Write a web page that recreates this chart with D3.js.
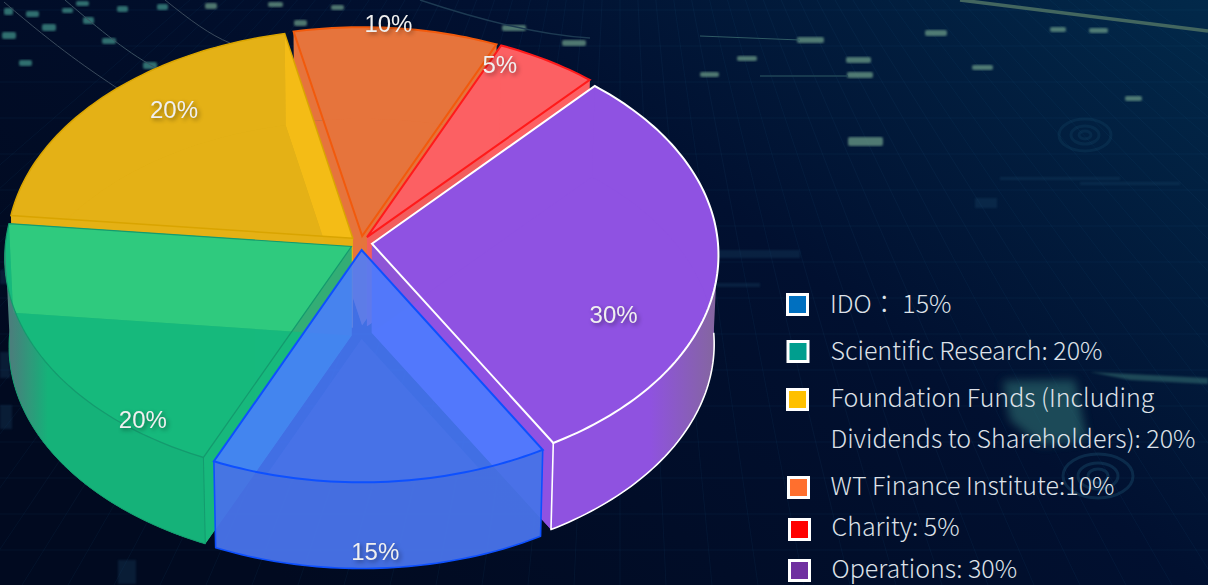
<!DOCTYPE html>
<html>
<head>
<meta charset="utf-8">
<script src="https://cdn.jsdelivr.net/npm/d3@7"></script>
<style>
    html, body { margin: 0; padding: 0; background: #020b20; overflow: hidden; }
    svg { display: block; }
    .slice-label {
        font-family: "Liberation Sans", Arial, sans-serif;
        font-size: 24px;
        fill: #f0f0f0;
        text-anchor: middle;
        dominant-baseline: central;
        filter: drop-shadow(2px 2px 2px rgba(0, 0, 0, 0.4));
    }
    .legend-text {
        font-family: "Noto Sans CJK TC", "Noto Sans CJK SC", "Noto Sans", sans-serif;
        font-size: 25px;
        font-weight: 300;
        fill: #dde1e8;
    }
</style>
</head>
<body>
<svg id="chart" width="1208" height="585"></svg>
<script>
    // chart values, clockwise from the IDO slice
    var categories = ["IDO", "Scientific Research", "Foundation Funds", "WT Finance Institute", "Charity", "Operations"]
    var shares = [15, 20, 20, 10, 5, 30]
    var sliceLabels = ["15%", "20%", "20%", "10%", "5%", "30%"]
    var legendLines = [
        ["IDO\uff1a 15%"],
        ["Scientific Research: 20%"],
        ["Foundation Funds (Including", "Dividends to Shareholders): 20%"],
        ["WT Finance Institute:10%"],
        ["Charity: 5%"],
        ["Operations: 30%"]
    ]

    // colours, same order as categories
    var topColors = ["#4a7dff", "#2fcd80", "#f5be17", "#e6743c", "#fc6063", "#8f52e2"]
    var topOpacity = [0.88, 0.9, 0.9, 1, 1, 1]
    var lowColors = ["#4873e8", "#16b97d", "#e5b216", "#e6743c", "#fc6063", "#8f52e2"]
    var wallColors = [null, "#33ad75", "#e6b012", "#7f6353", "#f25d5d", "#8e55d6"]
    var edgeColors = ["#0d50ff", "#149a6e", "#d9a400", "#f25a0c", "#ff1a1a", "#ffffff"]
    var edgeWidths = [2, 1.2, 1.5, 2, 2, 2]
    var swatchColors = ["#0070c0", "#009e8e", "#ffc000", "#ff6f2e", "#ff0000", "#7030a0"]

    // legend layout
    var legendSwatchX = [787.5, 788, 787.5, 788.5, 789.5, 789.5]
    var legendSwatchY = [294.5, 341.5, 389.5, 477.5, 519.5, 560.5]
    var legendTextX = [830, 830.5, 830.5, 830.5, 831.5, 831.5]
    var legendTextY = [[313], [360], [407, 448], [495], [536], [578]]

    // background bits: x, y, width, height
    var glowDashes = [
        [797, 37, 27, 6], [925, 30, 22, 6], [1050, 27, 16, 5], [1089, 28, 19, 5], [737, 56, 20, 5], [846, 57, 25, 6],
        [700, 72, 19, 5], [847, 72, 26, 6], [972, 65, 21, 5], [1125, 96, 17, 5], [848, 137, 35, 9],
        [562, 40, 24, 6], [502, 25, 24, 6], [268, 2, 15, 5], [294, 20, 13, 6],
        [331, 5, 13, 5], [4, 8, 9, 7], [26, 11, 13, 6], [42, 24, 14, 7], [2, 32, 14, 7], [19, 60, 13, 6],
        [76, 1, 13, 5], [62, 8, 11, 5], [83, 17, 11, 7], [117, 6, 11, 6], [102, 38, 14, 6], [143, 62, 14, 7],
        [157, 4, 11, 6], [205, 3, 12, 6]
    ]
    var faintBlocks = [
        [975, 198, 22, 10], [700, 250, 100, 8], [1000, 177, 120, 3], [1080, 182, 100, 3],
        [0, 270, 8, 14], [0, 352, 10, 26], [0, 405, 12, 24], [118, 560, 18, 24], [700, 283, 60, 4]
    ]

    var width = 1208
    var height = 585
    var cx = 361
    var cy = 243
    var radiusX = 346
    var radiusY = 220
    var depth = 89
    var explode = 11 / 346
    var perspective = 0.05
    var shrink = 0.012
    var startAngle = 150 * Math.PI / 180

    var svg = d3.select("#chart")
    var defs = svg.append("defs")

    // ---- background ----
    var bg = defs.append("linearGradient").attr("id", "bgFill")
        .attr("x1", 0).attr("y1", 0.6).attr("x2", 1).attr("y2", 0)
    bg.append("stop").attr("offset", 0).attr("stop-color", "#010a20")
    bg.append("stop").attr("offset", 0.55).attr("stop-color", "#011030")
    bg.append("stop").attr("offset", 1).attr("stop-color", "#02294a")
    defs.append("filter").attr("id", "soft").append("feGaussianBlur").attr("stdDeviation", 1)
    defs.append("filter").attr("id", "softer")
        .attr("x", "-50%").attr("y", "-50%").attr("width", "200%").attr("height", "200%")
        .append("feGaussianBlur").attr("stdDeviation", 5)

    svg.append("rect").attr("width", width).attr("height", height).attr("fill", "url(#bgFill)")

    var grid = svg.append("g").attr("stroke", "#2f6a9a").attr("stroke-opacity", 0.09).attr("fill", "none")
    grid.selectAll(".h").data(d3.range(10, height, 36)).enter().append("line")
        .attr("x1", 0).attr("x2", width).attr("y1", function(d) { return d }).attr("y2", function(d) { return d })
    grid.selectAll(".v").data(d3.range(-24, 30)).enter().append("line")
        .attr("x1", function(d) { return 620 + d * 16 }).attr("y1", -40)
        .attr("x2", function(d) { return 620 + d * 46 }).attr("y2", height)

    var deco = svg.append("g")
    deco.selectAll(".dash").data(glowDashes).enter().append("rect")
        .attr("x", function(d) { return d[0] }).attr("y", function(d) { return d[1] })
        .attr("width", function(d) { return d[2] }).attr("height", function(d) { return d[3] })
        .attr("rx", 2)
        .attr("fill", function(d) { return d[0] < 200 ? "#3f9088" : "#6a9a86" })
        .attr("opacity", 0.75).attr("filter", "url(#soft)")
    deco.selectAll(".block").data(faintBlocks).enter().append("rect")
        .attr("x", function(d) { return d[0] }).attr("y", function(d) { return d[1] })
        .attr("width", function(d) { return d[2] }).attr("height", function(d) { return d[3] })
        .attr("fill", "#1d4a6a").attr("opacity", 0.3).attr("filter", "url(#soft)")
    deco.append("path").attr("d", "M960,0L1208,31").attr("stroke", "#43665f").attr("stroke-width", 3.5).attr("fill", "none")
    deco.append("path").attr("d", "M700,36L800,40").attr("stroke", "#2f5a64").attr("stroke-width", 1).attr("fill", "none")
    deco.append("path").attr("d", "M760,76L848,76").attr("stroke", "#1f4456").attr("stroke-width", 1.5).attr("fill", "none")
    deco.append("path").attr("d", "M4,2C60,50 90,70 120,90").attr("stroke", "#3a4a5c").attr("stroke-width", 1).attr("fill", "none")
    deco.append("path").attr("d", "M65,0C100,30 130,55 160,70").attr("stroke", "#3a5060").attr("stroke-width", 1).attr("fill", "none")
    deco.append("path").attr("d", "M165,0C190,20 210,35 230,43").attr("stroke", "#3a4a5c").attr("stroke-width", 1).attr("fill", "none")
    deco.append("path").attr("d", "M420,0C480,20 540,35 590,38").attr("stroke", "#1d3a52").attr("stroke-width", 1.5).attr("fill", "none")
    deco.append("path").attr("d", "M1003,381L1075,380L1087,440L1040,445L1010,420Z")
        .attr("fill", "#2f6f72").attr("opacity", 0.6).attr("filter", "url(#softer)")
    deco.append("path").attr("d", "M1090,372L1208,378L1208,384L1130,380Z")
        .attr("fill", "#3a7a78").attr("opacity", 0.5).attr("filter", "url(#soft)")
    deco.selectAll(".ring").data([[1098, 476, 35, 22], [1098, 476, 20, 13], [1098, 476, 10, 7], [1085, 135, 26, 16], [1085, 135, 14, 9], [1085, 135, 6, 4]]).enter()
        .append("ellipse")
        .attr("cx", function(d) { return d[0] }).attr("cy", function(d) { return d[1] })
        .attr("rx", function(d) { return d[2] }).attr("ry", function(d) { return d[3] })
        .attr("fill", "none").attr("stroke", "#1f5a78").attr("stroke-width", 3)
        .attr("opacity", function(d) { return d[1] > 300 ? 0.35 : 0.2 })

    // ---- wall gradients, the sides of the disc go grey at the far edges ----
    var purpleWall = defs.append("linearGradient").attr("id", "wall5").attr("gradientUnits", "userSpaceOnUse")
        .attr("x1", 550).attr("x2", 716).attr("y1", 0).attr("y2", 0)
    purpleWall.append("stop").attr("offset", 0.6).attr("stop-color", "#8f52e0")
    purpleWall.append("stop").attr("offset", 1).attr("stop-color", "#84669f")
    var greenWall = defs.append("linearGradient").attr("id", "wall1").attr("gradientUnits", "userSpaceOnUse")
        .attr("x1", 11).attr("x2", 48).attr("y1", 0).attr("y2", 0)
    greenWall.append("stop").attr("offset", 0).attr("stop-color", "#4d8480")
    greenWall.append("stop").attr("offset", 1).attr("stop-color", "#16b97d")

    // ---- pie geometry ----
    var pie = d3.pie().sort(null).value(function(d) { return d.share })
        .startAngle(startAngle).endAngle(startAngle + 2 * Math.PI)

    var table = categories.map(function(name, i) {
        return { name: name, share: shares[i], label: sliceLabels[i], index: i }
    })
    var slices = pie(table)
    slices.forEach(function(d) {
        d.mid = (d.startAngle + d.endAngle) / 2
        d.ox = explode * Math.sin(d.mid)
        d.oy = -explode * Math.cos(d.mid)
    })

    // unit disc -> screen. r=0 is the apex of the slice, z=0 top face, z=1 bottom face
    function project(d, angle, r, z) {
        var X = d.ox + r * Math.sin(angle)
        var Y = d.oy - r * Math.cos(angle)
        var p = (1 / (1 - perspective * Y)) * (1 - shrink * z)
        return [cx + X * radiusX * p, cy + Y * radiusY * p + z * depth]
    }

    function arcPoints(d, a0, a1, z) {
        var n = Math.max(2, Math.ceil((a1 - a0) / 0.02))
        return d3.range(n + 1).map(function(i) {
            return project(d, a0 + (a1 - a0) * i / n, 1, z)
        })
    }

    var line = d3.line()

    function faceShape(d, z) {
        return line([project(d, 0, 0, z)].concat(arcPoints(d, d.startAngle, d.endAngle, z))) + "Z"
    }

    function wallBand(a0, a1, d) {
        var top = arcPoints(d, a0, a1, 0)
        var low = arcPoints(d, a0, a1, 1).reverse()
        return line(top.concat(low)) + "Z"
    }

    function innerWallShape(d, angle) {
        return line([project(d, 0, 0, 0), project(d, angle, 1, 0), project(d, angle, 1, 1), project(d, 0, 0, 1)]) + "Z"
    }

    // angles of the slice that lie on the half of the disc facing us
    function frontRange(d) {
        var raw = d.startAngle % (2 * Math.PI)
        var end = raw + (d.endAngle - d.startAngle)
        return { raw: raw, end: end, from: Math.max(raw, Math.PI / 2), to: Math.min(end, 1.5 * Math.PI) }
    }

    function frontEdge(d) {
        var f = frontRange(d)
        var pts = arcPoints(d, f.from, f.to, 1)
        if (f.raw >= Math.PI / 2) pts.unshift(project(d, f.raw, 1, 0))
        if (f.end <= 1.5 * Math.PI) pts.push(project(d, f.end, 1, 0))
        return line(pts)
    }

    // back slices first, the one nearest to us last
    var drawOrder = slices.slice().sort(function(a, b) {
        return d3.ascending(-Math.cos(a.mid), -Math.cos(b.mid))
    })

    var group = svg.append("g").selectAll(".slice").data(drawOrder).enter().append("g")
        .attr("class", "slice")

    group.each(function(d) {
        var s = d3.select(this)
        var i = d.data.index
        // the front slice has no visible cut faces, what shows through it belongs to its neighbours
        if (wallColors[i]) {
            s.append("path").attr("d", innerWallShape(d, d.startAngle)).attr("fill", wallColors[i])
            s.append("path").attr("d", innerWallShape(d, d.endAngle)).attr("fill", wallColors[i])
        }

        s.append("path").attr("d", faceShape(d, 0)).attr("fill", topColors[i]).attr("fill-opacity", topOpacity[i])

        var low = s.append("g").attr("opacity", topOpacity[i] == 1 ? 1 : 0.96)
        low.append("path").attr("d", faceShape(d, 1)).attr("fill", lowColors[i])
        low.append("path").attr("d", wallBand(d.startAngle, d.endAngle, d)).attr("fill", lowColors[i])
        if (i == 1 || i == 5) {
            var f = frontRange(d)
            low.append("path").attr("d", wallBand(f.from, f.to, d)).attr("fill", "url(#wall" + i + ")")
        }

        if (-Math.cos(d.mid) > 0) {
            s.append("path").attr("d", frontEdge(d)).attr("fill", "none")
                .attr("stroke", edgeColors[i]).attr("stroke-width", edgeWidths[i] * 0.8)
                .attr("stroke-linejoin", "round")
        }

        s.append("path").attr("d", faceShape(d, 0)).attr("fill", "none")
            .attr("stroke", edgeColors[i]).attr("stroke-width", edgeWidths[i])
            .attr("stroke-linejoin", "miter")
    })

    // slice labels sit on their own ellipse around the apex
    var labelRadiusX = 242
    var labelRadiusY = 258
    var labelDrop = 44
    svg.append("g").selectAll("text").data(slices).enter().append("text")
        .attr("class", "slice-label")
        .attr("x", function(d) {
            return project(d, 0, 0, 0)[0] + 1 + labelRadiusX * Math.sin(d.mid)
        })
        .attr("y", function(d) {
            return project(d, 0, 0, 0)[1] + labelDrop - labelRadiusY * Math.cos(d.mid)
        })
        .text(function(d) { return d.data.label })

    // ---- legend ----
    var legend = svg.append("g").selectAll(".legend").data(categories).enter().append("g").attr("class", "legend")
    legend.append("rect")
        .attr("x", function(d, i) { return legendSwatchX[i] })
        .attr("y", function(d, i) { return legendSwatchY[i] })
        .attr("width", 20).attr("height", 20)
        .attr("fill", function(d, i) { return swatchColors[i] })
        .attr("stroke", "#ffffff").attr("stroke-width", 3)
    legend.each(function(d, i) {
        d3.select(this).selectAll("text").data(legendLines[i]).enter().append("text")
            .attr("class", "legend-text")
            .attr("x", legendTextX[i])
            .attr("y", function(t, j) { return legendTextY[i][j] })
            .text(function(t) { return t })
    })
</script>
</body>
</html>
